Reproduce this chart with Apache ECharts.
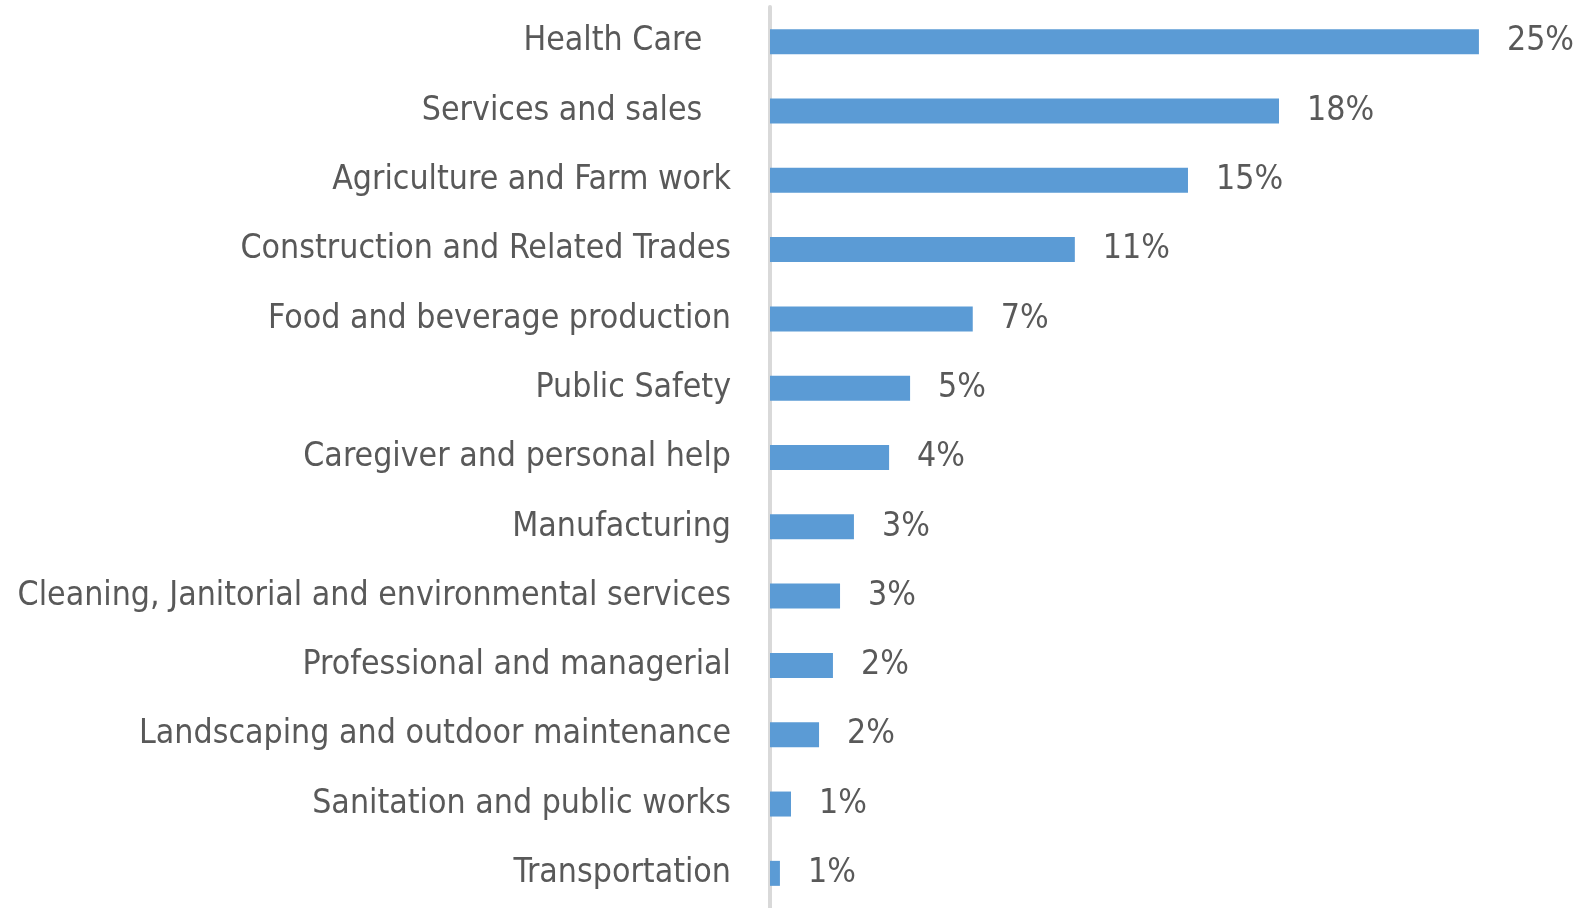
<!DOCTYPE html>
<html>
<head>
<meta charset="utf-8">
<script src="https://cdn.jsdelivr.net/npm/echarts@6/dist/echarts.min.js"></script>
<style>
    html, body { margin: 0; padding: 0; background: #fff; }
    #chart { width: 1578px; height: 908px; }
</style>
</head>
<body>
<div id="chart"></div>
<script>
    // categories top to bottom (trailing spaces as in the original labels)
    var categories = [
        'Health Care   ',
        'Services and sales   ',
        'Agriculture and Farm work',
        'Construction and Related Trades',
        'Food and beverage production',
        'Public Safety',
        'Caregiver and personal help',
        'Manufacturing',
        'Cleaning, Janitorial and environmental services',
        'Professional and managerial',
        'Landscaping and outdoor maintenance',
        'Sanitation and public works',
        'Transportation'
    ];
    // share in percent
    var shares = [25.0, 17.95, 14.74, 10.75, 7.15, 4.94, 4.2, 2.96, 2.47, 2.22, 1.73, 0.74, 0.35];
    // data labels as printed on the chart
    var shareLabels = ['25%', '18%', '15%', '11%', '7%', '5%', '4%', '3%', '3%', '2%', '2%', '1%', '1%'];

    var fontFamily = 'Liberation Sans Narrow, "DejaVu Sans Condensed", sans-serif';

    var chart = echarts.init(document.getElementById('chart'));
    chart.setOption({
        animation: false,
        grid: {
            left: 770,
            top: 7,
            width: 794,
            height: 906
        },
        xAxis: {
            type: 'value',
            min: 0,
            max: 28,
            show: false
        },
        yAxis: {
            type: 'category',
            inverse: true,
            data: categories,
            offset: 2,
            axisLine: { show: true, lineStyle: { color: '#d9d9d9', width: 4 } },
            axisTick: { show: false },
            axisLabel: {
                margin: 37,
                color: '#595959',
                fontSize: 33.6,
                fontFamily: fontFamily,
                padding: [0, 0, 6, 0]
            }
        },
        series: [{
            type: 'bar',
            data: shares,
            barWidth: 25,
            itemStyle: { color: '#5b9bd5' },
            label: {
                show: true,
                position: 'right',
                distance: 28,
                color: '#595959',
                fontSize: 33.6,
                fontFamily: fontFamily,
                formatter: function (p) { return shareLabels[p.dataIndex]; }
            }
        }]
    });
</script>
</body>
</html>
